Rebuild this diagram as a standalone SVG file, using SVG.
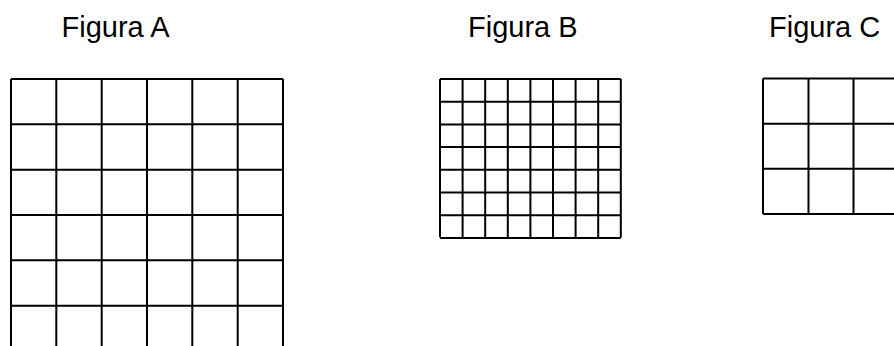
<svg xmlns="http://www.w3.org/2000/svg" width="894" height="346" viewBox="0 0 894 346">
<style>
.t{font-family:"Liberation Sans",Arial,sans-serif;font-size:29px;fill:#000}
.g{fill:none;stroke:#000;stroke-width:2}
</style>
<rect width="894" height="346" fill="#fff"/>
<g id="figA">
<text class="t" x="61.5" y="36.5">Figura A</text>
<path class="g" d="M11,79V352M56.3,79V352M101.7,79V352M147,79V352M192.3,79V352M237.7,79V352M283,79V352M11,79H283M11,124.3H283M11,169.7H283M11,215H283M11,260.3H283M11,305.7H283"/>
</g>
<g id="figB">
<text class="t" x="468" y="36.5">Figura B</text>
<path class="g" d="M440,79V237.6M462.6,79V237.6M485.2,79V237.6M507.8,79V237.6M530.4,79V237.6M553,79V237.6M575.6,79V237.6M598.2,79V237.6M620.8,79V237.6M440,79H620.8M440,101.7H620.8M440,124.4H620.8M440,147.1H620.8M440,169.8H620.8M440,192.5H620.8M440,215.2H620.8M440,237.9H620.8"/>
</g>
<g id="figC">
<text class="t" x="769" y="36.5">Figura C</text>
<path class="g" d="M763,78.5V214M808.5,78.5V214M853.5,78.5V214M763,78.5H900M763,123.7H900M763,168.8H900M763,214H900"/>
</g>
</svg>
